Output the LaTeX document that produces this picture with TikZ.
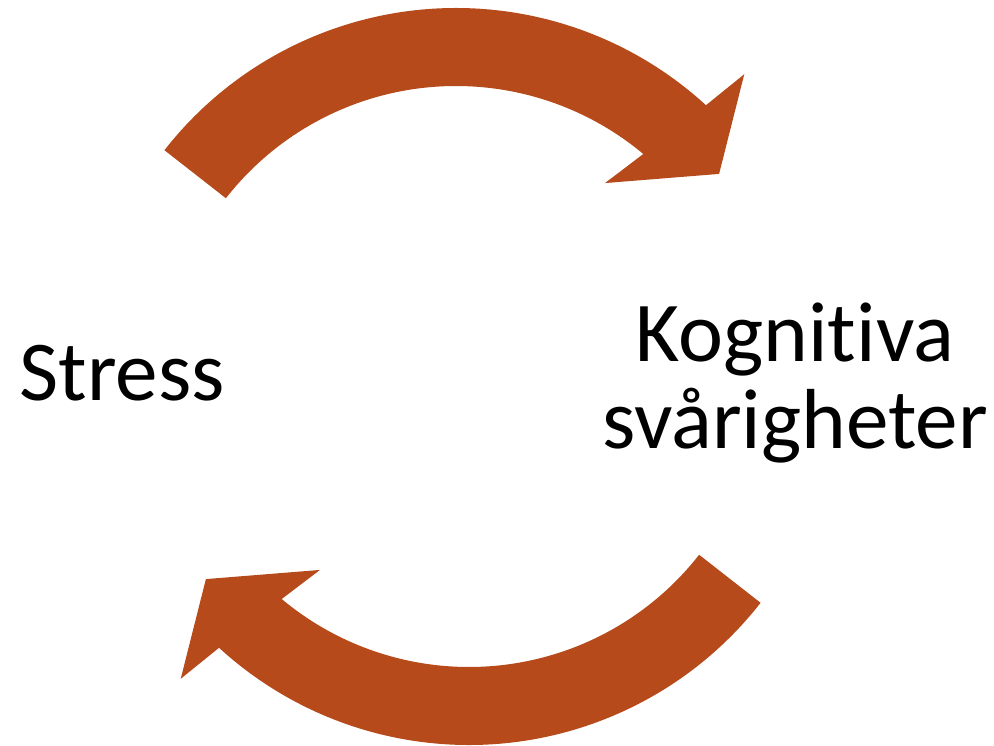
\documentclass[tikz,border=0pt]{standalone}
\usepackage{fontspec}
\setmainfont[Ligatures=NoCommon]{Carlito}
\usepackage{tikz}
\definecolor{rust}{RGB}{182,74,26}
\tikzstyle{arrowfill}=[fill=rust,draw=none]
\tikzstyle{label}=[inner sep=0mm,font=\fontsize{48.5pt}{49.5pt}\selectfont]
\tikzset{every picture/.style={
    x=0.02cm,y=0.02cm
  }
}

\begin{document}
\begin{tikzpicture}
      \useasboundingbox (0,0) rectangle (994,745);
      \node[label,anchor=base west] at (19,345) (stress) {Stress};
      \node[label,align=center] at (795,362) (cognition) {Kognitiva\\svårigheter};
      % upper arrow, stress to cognition
      \begin{scope}[shift={(456,367)}]
        \fill[arrowfill] (142:370) arc[start angle=142,end angle=47.5,radius=370]
          -- (46.5:418.8) -- (37.8:333) -- (52.6:245.4) -- (50.1:292)
          arc[start angle=50.1,end angle=142,radius=292] -- cycle;
      \end{scope}
      % lower arrow, back to stress
      \begin{scope}[shift={(469,370)},rotate=180]
        \fill[arrowfill] (142:370) arc[start angle=142,end angle=47.5,radius=370]
          -- (46.5:418.8) -- (37.8:333) -- (52.6:245.4) -- (50.1:292)
          arc[start angle=50.1,end angle=142,radius=292] -- cycle;
      \end{scope}
    \end{tikzpicture}
\end{document}
